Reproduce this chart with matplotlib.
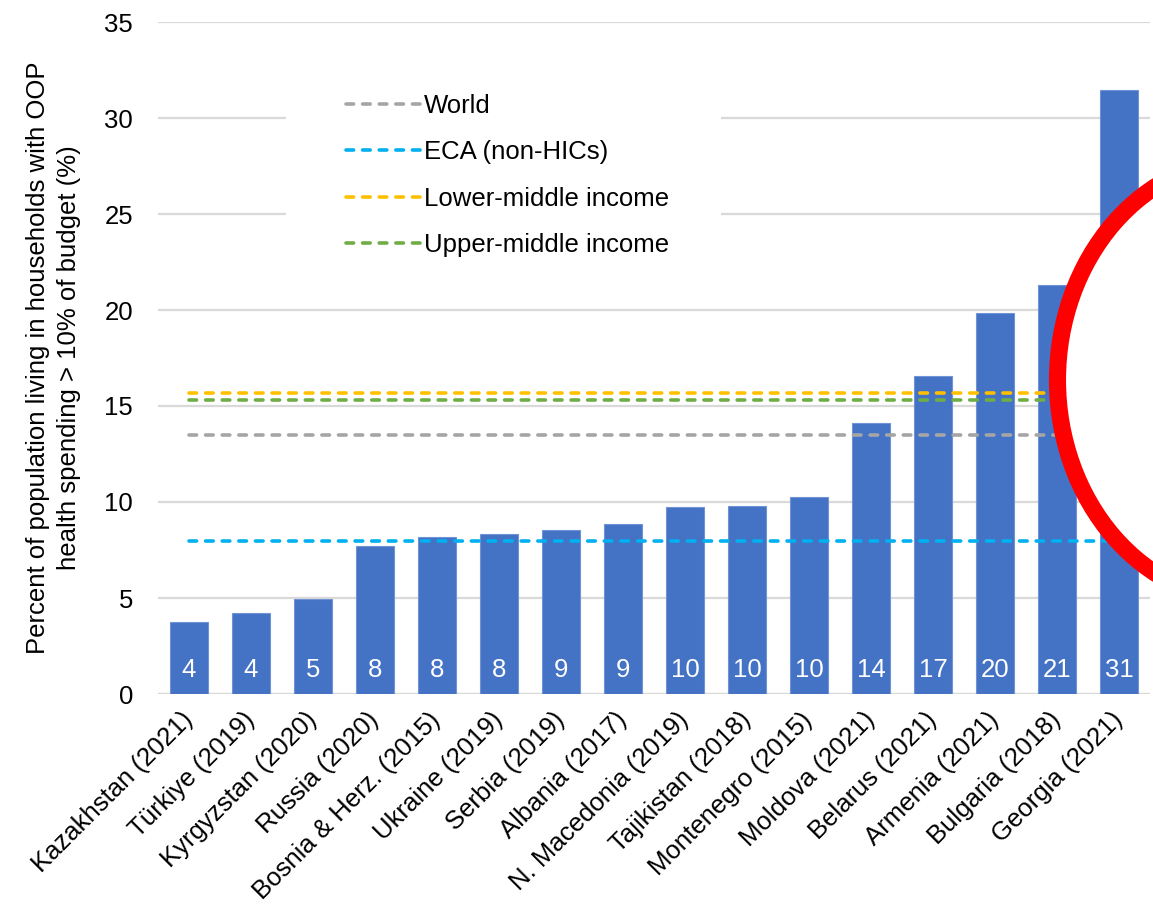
import matplotlib
matplotlib.use("Agg")
import matplotlib.pyplot as plt
from matplotlib.patches import Ellipse, Rectangle

plt.rcParams['font.family'] = ['Liberation Sans', 'DejaVu Sans']

# Data
countries = ["Kazakhstan (2021)", "Türkiye (2019)", "Kyrgyzstan (2020)", "Russia (2020)",
             "Bosnia & Herz. (2015)", "Ukraine (2019)", "Serbia (2019)", "Albania (2017)",
             "N. Macedonia (2019)", "Tajikistan (2018)", "Montenegro (2015)", "Moldova (2021)",
             "Belarus (2021)", "Armenia (2021)", "Bulgaria (2018)", "Georgia (2021)"]
values = [3.75, 4.22, 4.95, 7.7, 8.18, 8.33, 8.54, 8.85, 9.74, 9.79, 10.26, 14.1,
          16.55, 19.85, 21.3, 31.45]

benchmark_names = ["World", "ECA (non-HICs)", "Lower-middle income", "Upper-middle income"]
benchmark_values = [13.5, 7.95, 15.68, 15.3]
benchmark_colors = ["#A5A5A5", "#00B0F0", "#FFC000", "#70AD47"]

yticks = [0, 5, 10, 15, 20, 25, 30, 35]

FS = 18.5
W, H = 1153, 908
fig = plt.figure(figsize=(W / 100, H / 100), dpi=100)
ax = fig.add_axes([158 / W, 1 - 694 / H, 992 / W, 672 / H])

x = list(range(len(countries)))
ax.set_xlim(-0.5, len(countries) - 0.5)
ax.set_ylim(0, 35)
ax.set_yticks(yticks)
ax.yaxis.grid(True, color="#D9D9D9", linewidth=1.6, zorder=0)
ax.set_axisbelow(True)
for s in ax.spines.values():
    s.set_visible(False)
ax.axhline(0, color="#D9D9D9", linewidth=1.6, zorder=0.5)
ax.tick_params(axis="both", length=0, labelsize=FS, colors="#000000")
ax.tick_params(axis="y", pad=18)

# White panel behind the legend
ax.add_patch(Rectangle((286 / W, 1 - 285 / H), (721 - 286) / W, 225 / H,
                       transform=fig.transFigure, facecolor="white", edgecolor="none",
                       zorder=1))

bars = ax.bar(x, values, width=0.6, color="#4472C4", edgecolor="#6F93D6",
              linewidth=0.8, zorder=2)
for xi, v in zip(x, values):
    ax.annotate(f"{round(v)}", (xi, 0), xytext=(0, 12.5), textcoords="offset points",
                ha="center", va="baseline", color="white", fontsize=FS, zorder=3)

for name, val, col in zip(benchmark_names, benchmark_values, benchmark_colors):
    ax.plot([x[0], x[-1]], [val, val], color=col, linewidth=2.6,
            linestyle=(0, (2.1, 2.5)), dash_capstyle="round", label=name, zorder=4)

ax.set_xticks(x)
ax.set_xticklabels(countries, rotation=45, ha="right", va="center",
                   rotation_mode="anchor")
ax.tick_params(axis="x", pad=16)

ax.set_ylabel("Percent of population living in households with OOP\n"
              "health spending > 10% of budget (%)", fontsize=FS, labelpad=17,
              linespacing=1.35)

leg = ax.legend(loc="upper left", bbox_to_anchor=(346 / W, 1 - 94 / H),
                bbox_transform=fig.transFigure, frameon=False, fontsize=FS,
                handlelength=2.9, handletextpad=0.15, labelspacing=0.87,
                borderpad=0, borderaxespad=0)
leg.set_zorder(5)

# Red highlight ring on the right
ell = Ellipse((1249 / W, 1 - 380 / H), 2 * 191.5 / W, 2 * 221.5 / H,
              transform=fig.transFigure, facecolor="white", edgecolor="#FF0000",
              linewidth=12.3, zorder=10)
fig.add_artist(ell)

fig.savefig("out.png", dpi=100)
